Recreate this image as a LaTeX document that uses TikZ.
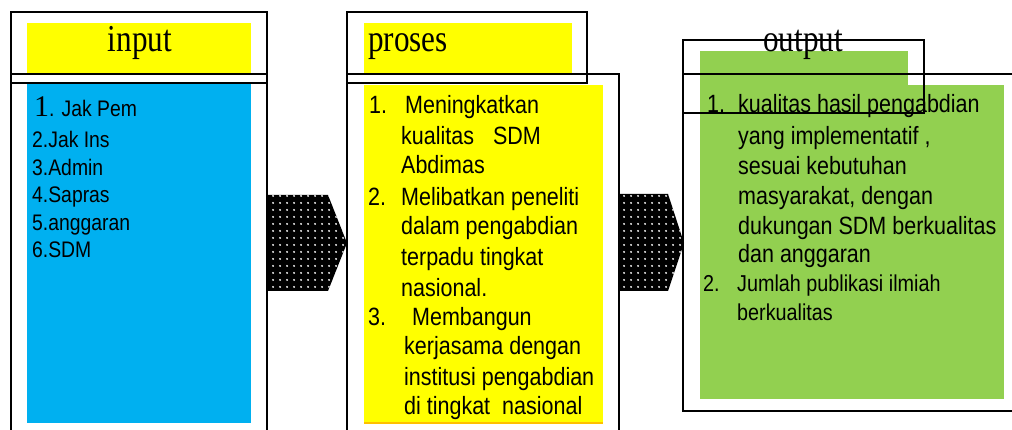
\documentclass[tikz,border=0pt]{standalone}
\usepackage{fontspec}
\setmainfont{Liberation Serif}
\newfontfamily\hserif[FakeStretch=0.82]{Liberation Serif}
\newfontfamily\nsans[FakeStretch=0.86]{Liberation Sans}
\usetikzlibrary{patterns.meta}
\definecolor{cblue}{RGB}{0,176,240}
\definecolor{cyellow}{RGB}{255,255,0}
\definecolor{cgreen}{RGB}{146,208,80}
\definecolor{corange}{RGB}{255,192,0}
\begin{document}
\begin{tikzpicture}[x=1pt,y=-1pt,
  box/.style={draw=black,line width=1.4pt},
  txt/.style={inner sep=0pt,anchor=base west},
  head/.style={inner sep=0pt,font=\hserif\fontsize{38}{42}\selectfont},
  intxt/.style={txt,font=\nsans\fontsize{22.5}{26}\selectfont},
  prtxt/.style={txt,font=\nsans\fontsize{25}{30}\selectfont},
  outtxt/.style={txt,font=\nsans\fontsize{25}{30}\selectfont},
  outtxtb/.style={txt,font=\nsans\fontsize{23}{28}\selectfont},
  arrowfill/.style={fill=black,postaction={pattern={Dots[radius=1.1pt,distance=6.5pt]},pattern color=white}}]
\useasboundingbox (0,0) rectangle (1012,430);
\clip (0,0) rectangle (1012,430);
% coloured fills
\fill[cyellow] (27,23) rectangle (251,73);
\fill[cblue] (27,84) rectangle (251,423);
\fill[cyellow] (364,23) rectangle (572,73);
\fill[cyellow] (364,85) rectangle (603,423);
\draw[corange,line width=1.5pt] (364,423) -- (603,423);
\fill[cgreen] (700,51) rectangle (908,86);
\fill[cgreen] (700,85) rectangle (1004,399);
% block arrows
\path[arrowfill] (267,195) -- (328,195) -- (347,243) -- (328,291) -- (267,291) -- cycle;
\path[arrowfill] (619,194) -- (668,194) -- (684,243) -- (668,291) -- (619,291) -- cycle;
% frames
\draw[box] (11,12) rectangle (267,83);
\draw[box] (11,74) rectangle (267,440);
\draw[box] (347,12) rectangle (587,83);
\draw[box] (347,74) rectangle (619,440);
\draw[box] (683,40) rectangle (924,113);
\draw[box] (683,74) rectangle (1030,411);
% headers
\node[head,anchor=base] (hin) at (140,52) {input};
\node[head,anchor=base west] (hpr) at (368,52) {proses};
\node[head,anchor=base west] (hout) at (763,52) {output};
% input list
\node[intxt] (in1) at (34,117) {{\rmfamily\fontsize{30}{30}\selectfont 1}. Jak Pem};
\node[intxt] (in2) at (32,148) {2.Jak Ins};
\node[intxt] (in3) at (32,176) {3.Admin};
\node[intxt] (in4) at (32,203) {4.Sapras};
\node[intxt] (in5) at (32,231) {5.anggaran};
\node[intxt] (in6) at (32,258) {6.SDM};
% proses list
\node[prtxt] (p1n) at (369,114) {1.};
\node[prtxt] (p1a) at (405,114) {Meningkatkan};
\node[prtxt] (p1b) at (401,145) {kualitas\hspace{19pt}SDM};
\node[prtxt] (p1c) at (401,174) {Abdimas};
\node[prtxt] (p2n) at (368,206) {2.};
\node[prtxt] (p2a) at (401,206) {Melibatkan peneliti};
\node[prtxt] (p2b) at (401,235) {dalam pengabdian};
\node[prtxt] (p2c) at (401,266) {terpadu tingkat};
\node[prtxt] (p2d) at (401,297) {nasional.};
\node[prtxt] (p3n) at (368,326) {3.};
\node[prtxt] (p3a) at (412,326) {Membangun};
\node[prtxt] (p3b) at (404,355) {kerjasama dengan};
\node[prtxt] (p3c) at (404,385) {institusi pengabdian};
\node[prtxt] (p3d) at (404,414) {di tingkat\hspace{12pt}nasional};
% output list
\node[outtxt] (o1n) at (707,113) {1.};
\node[outtxt] (o1a) at (738,113) {kualitas hasil pengabdian};
\node[outtxt] (o1b) at (738,145) {yang implementatif ,};
\node[outtxt] (o1c) at (738,175) {sesuai kebutuhan};
\node[outtxt] (o1d) at (738,205) {masyarakat, dengan};
\node[outtxt] (o1e) at (738,235) {dukungan SDM berkualitas};
\node[outtxt] (o1f) at (738,263) {dan anggaran};
\node[outtxtb] (o2n) at (703,292) {2.};
\node[outtxtb] (o2a) at (737,292) {Jumlah publikasi ilmiah};
\node[outtxtb] (o2b) at (737,320) {berkualitas};
\end{tikzpicture}
\end{document}
